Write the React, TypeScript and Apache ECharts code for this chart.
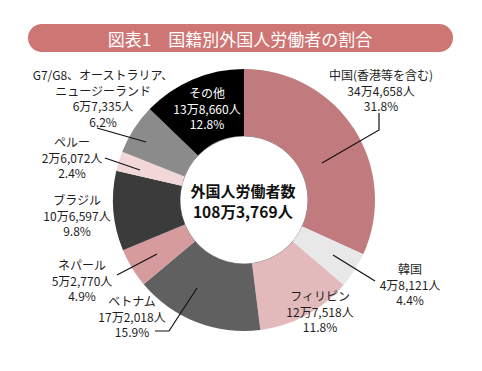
import React, { useEffect, useRef } from "react";
import * as echarts from "echarts";

const categories = [
  "中国(香港等を含む)",
  "韓国",
  "フィリピン",
  "ベトナム",
  "ネパール",
  "ブラジル",
  "ペルー",
  "G7/G8、オーストラリア、\nニュージーランド",
  "その他",
];
const countLabels = [
  "34万4,658人",
  "4万8,121人",
  "12万7,518人",
  "17万2,018人",
  "5万2,770人",
  "10万6,597人",
  "2万6,072人",
  "6万7,335人",
  "13万8,660人",
];
const counts = [344658, 48121, 127518, 172018, 52770, 106597, 26072, 67335, 138660];
const percents = [31.8, 4.4, 11.8, 15.9, 4.9, 9.8, 2.4, 6.2, 12.8];
const totalLabel = "108万3,769人";

const colors = ["#c17a7d", "#e8e8e8", "#e3babc", "#606060", "#d59b9d", "#3b3b3b", "#f2d7d9", "#8b8b8b", "#000000"];
// label anchor (center x, top y) per slice
const labelPos: [number, number][] = [
  [381, 67],
  [410, 261],
  [320, 288],
  [132, 293],
  [82, 257],
  [77, 192],
  [72, 134],
  [103, 67],
  [207, 85],
];
const leaderLines: [number, number][][] = [
  [[379, 113], [379, 130], [322, 163]],
  [[333, 255], [375, 281]],
  [],
  [[155, 331], [169, 331], [197, 288]],
  [[117, 275], [157, 254]],
  [],
  [[105, 158], [140, 170]],
  [[97, 128], [146, 142]],
  [],
];

export default function App() {
  const ref = useRef<HTMLDivElement>(null);
  useEffect(() => {
    document.body.style.margin = "0";
    const chart = echarts.init(ref.current!, null, { renderer: "svg" });
    const font = "'Noto Sans CJK JP', 'Noto Sans', sans-serif";
    const graphics: any[] = [
      {
        type: "rect",
        shape: { x: 28, y: 24, width: 425, height: 28, r: 14 },
        style: { fill: "#cd7673" },
      },
      {
        type: "text",
        x: 240,
        y: 38,
        style: {
          text: "図表1　国籍別外国人労働者の割合",
          fill: "#ffffff",
          font: `17px ${font}`,
          align: "center",
          verticalAlign: "middle",
        },
      },
      {
        type: "circle",
        shape: { cx: 244, cy: 200, r: 64 },
        style: { fill: "none", stroke: "#8a8a8a", lineWidth: 1 },
      },
      {
        type: "text",
        x: 243,
        y: 190,
        style: {
          text: "外国人労働者数",
          fill: "#111",
          font: `bold 15px ${font}`,
          align: "center",
          verticalAlign: "middle",
        },
      },
      {
        type: "text",
        x: 243,
        y: 211,
        style: {
          text: totalLabel,
          fill: "#111",
          font: `bold 15.5px ${font}`,
          align: "center",
          verticalAlign: "middle",
        },
      },
    ];
    leaderLines.forEach((pts) => {
      if (pts.length)
        graphics.push({
          type: "polyline",
          shape: { points: pts },
          style: { stroke: "#111", lineWidth: 1.2, fill: "none" },
          z: 10,
        });
    });
    chart.setOption({
      animation: false,
      graphic: graphics,
      series: [
        {
          type: "pie",
          center: [244, 200],
          radius: [64, 131],
          startAngle: 90,
          clockwise: true,
          avoidLabelOverlap: false,
          itemStyle: { borderWidth: 0 },
          emphasis: { disabled: true },
          labelLine: { show: false },
          label: {
            show: true,
            position: "outside",
            fontFamily: font,
            fontSize: 12,
            lineHeight: 15.5,
            align: "center",
            formatter: (p: any) =>
              `${categories[p.dataIndex]}\n${countLabels[p.dataIndex]}\n${percents[p.dataIndex].toFixed(1)}%`,
          },
          labelLayout: (p: any) => ({
            x: labelPos[p.dataIndex][0],
            y: labelPos[p.dataIndex][1],
            align: "center",
            verticalAlign: "top",
          }),
          data: counts.map((v, i) => ({
            name: categories[i],
            value: v,
            itemStyle: { color: colors[i] },
            label: { color: i === 8 ? "#ffffff" : "#1e1e1e" },
          })),
        },
      ],
    });
    return () => chart.dispose();
  }, []);
  return <div ref={ref} style={{ width: 482, height: 371 }} />;
}
